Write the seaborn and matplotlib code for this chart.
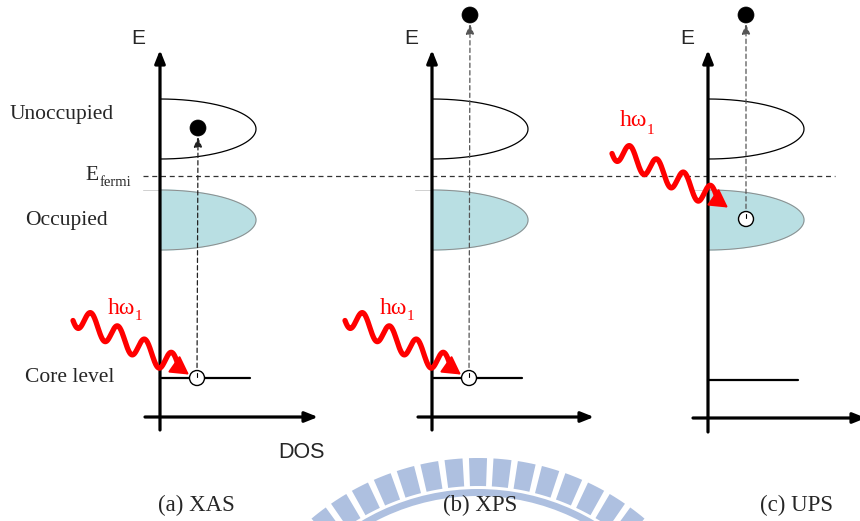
import numpy as np
import pandas as pd
import matplotlib
matplotlib.use("Agg")
import matplotlib.pyplot as plt
from matplotlib.patches import Circle, Wedge
import seaborn as sns

# ---------------- data (pixel-space schematic) ----------------
panels = ["(a) XAS", "(b) XPS", "(c) UPS"]
caption_x = [196, 480, 797]
axis_x = [160, 432, 708]                 # energy (E) axis positions
axis_bottom = [430, 430, 432]
axis_top = [50, 50, 50]
dos_axis_y = [417, 417, 418]
dos_axis_x0 = [145, 418, 693]
dos_axis_x1 = [318, 594, 866]
e_label_x = [138, 411, 687]
band_half_width = 96
unocc_band = (99, 159)
occ_band = (190, 250)
core_y = [378, 378, 380]
core_len = 90
hole_x = [197, 469, 746]
hole_y = [378, 378, 219]
electron_x = [198, 470, 746]
electron_y = [128, 15, 15]
photon_start_x = [73, 345, 612]
photon_start_y = [325, 325, 158]
photon_label_x = [108, 380, 620]
photon_label_y = [308, 308, 121]
fermi_y = 176
side_labels = ["Unoccupied", "Occupied", "Core level"]
side_label_y = [115, 221, 378]
side_label_x = [10, 25, 25]

RED = "#ff0000"
OCC_FILL = "#b9dfe3"
WM = "#aec0e0"

sns.set_theme(style="white")
SERIF = ["Liberation Serif", "DejaVu Serif"]
SANS = ["Liberation Sans", "DejaVu Sans"]

fig = plt.figure(figsize=(8.6, 5.21), dpi=100)
ax = fig.add_axes([0, 0, 1, 1])
ax.set_xlim(0, 860)
ax.set_ylim(521, 0)
ax.axis("off")

# ---------------- watermark (logo) ----------------
wc = (478, 717)
for a in np.linspace(-38, 38, 15):
    ax.add_patch(Wedge(wc, 259, -90 + a - 2.0, -90 + a + 2.0, width=28,
                       color=WM, lw=0, zorder=0))
ax.add_patch(Wedge(wc, 228, -90 - 50, -90 + 50, width=7, color=WM, lw=0, zorder=0))

# ---------------- fermi level ----------------
ax.plot([143, 835], [fermi_y, fermi_y], color="#333333", lw=0.9,
        ls=(0, (4, 3)), zorder=2)


def half_ellipse(x0, top, bottom, w, n=200):
    th = np.linspace(-np.pi / 2, np.pi / 2, n)
    yc = (top + bottom) / 2
    h = (bottom - top) / 2
    return x0 + w * np.cos(th), yc + h * np.sin(th)


def photon(x0, y0):
    dx = np.linspace(0, 106, 400)
    y = y0 - 10 + 0.49 * dx - 11 * np.cos(2 * np.pi * (dx - 18) / 27)
    return x0 + dx, y


AXIS_ARROW = dict(arrowstyle="-|>,head_length=0.55,head_width=0.22",
                  mutation_scale=14, lw=2.3, color="black", shrinkA=0, shrinkB=0)

for i in range(3):
    x = axis_x[i]
    # bands
    ux, uy = half_ellipse(x, *unocc_band, band_half_width)
    ax.plot(ux, uy, color="black", lw=0.9, zorder=2)
    ox, oy = half_ellipse(x, *occ_band, band_half_width)
    ax.fill(ox, oy, color=OCC_FILL, zorder=1)
    ax.plot(ox, oy, color="#8c8c8c", lw=0.7, zorder=1)
    ax.plot([x - 17, x], [occ_band[0], occ_band[0]], color="#d0d0d0", lw=0.7, zorder=1)
    # core level
    ax.plot([x, x + core_len], [core_y[i], core_y[i]], color="black", lw=1.6, zorder=2)
    # axes
    ax.annotate("", xy=(x, axis_top[i]), xytext=(x, axis_bottom[i]),
                arrowprops=AXIS_ARROW, zorder=4, annotation_clip=False)
    ax.annotate("", xy=(dos_axis_x1[i], dos_axis_y[i]), xytext=(dos_axis_x0[i], dos_axis_y[i]),
                arrowprops=AXIS_ARROW, zorder=4, annotation_clip=False)
    ax.text(e_label_x[i], 38, "E", family=SANS, fontsize=15, ha="center", va="center")
    # excitation (dashed arrow)
    hx, hy = hole_x[i], hole_y[i]
    ex, ey = electron_x[i], electron_y[i]
    dcol = "#222222" if i == 0 else "#555555"
    ax.annotate("", xy=(ex, ey + 9), xytext=(hx, hy - 3),
                arrowprops=dict(arrowstyle="-|>,head_length=0.6,head_width=0.25",
                                mutation_scale=10, lw=0.9, color=dcol, ls=(0, (3.5, 2.5)),
                                shrinkA=0, shrinkB=0), zorder=3, annotation_clip=False)
    ax.add_patch(Circle((hx, hy), 7.5, facecolor="white", edgecolor="black", lw=1.0, zorder=5))
    ax.plot([hx, hx], [hy - 5, hy - 1.5], color="black", lw=0.8, zorder=6)
    ax.add_patch(Circle((ex, ey), 8, facecolor="black", edgecolor="black", lw=0.5, zorder=5))
    # photon
    px, py = photon(photon_start_x[i], photon_start_y[i])
    df = pd.DataFrame({"x": px, "y": py})
    sns.lineplot(data=df, x="x", y="y", sort=False, estimator=None, color=RED,
                 lw=3.8, ax=ax, zorder=6)
    tip = (px[-1] + 10, py[-1] + 7)
    ax.annotate("", xy=tip, xytext=(px[-1] - 2, py[-1] - 1.4),
                arrowprops=dict(arrowstyle="-|>,head_length=0.8,head_width=0.45",
                                mutation_scale=14, lw=1.5, color=RED,
                                shrinkA=0, shrinkB=0), zorder=6, annotation_clip=False)
    ax.text(photon_label_x[i], photon_label_y[i], "hω", family=SERIF, fontsize=17,
            color=RED, ha="left", va="center")
    ax.text(photon_label_x[i] + 27, photon_label_y[i] + 9, "1", family=SERIF, fontsize=11,
            color=RED, ha="left", va="center")
    # caption
    ax.text(caption_x[i], 505, panels[i], family=SERIF, fontsize=16.5,
            ha="center", va="center")

for lab, lx, ly in zip(side_labels, side_label_x, side_label_y):
    ax.text(lx, ly, lab, family=SERIF, fontsize=15.5, ha="left", va="center")

ax.text(85, 175, "E", family=SERIF, fontsize=15.5, ha="left", va="center")
ax.text(99.5, 183, "fermi", family=SERIF, fontsize=10.5, ha="left", va="center")
ax.text(302, 452, "DOS", family=SANS, fontsize=15.5, ha="center", va="center")

ax.set_xlabel("")
ax.set_ylabel("")
fig.savefig("out.png", dpi=100)
